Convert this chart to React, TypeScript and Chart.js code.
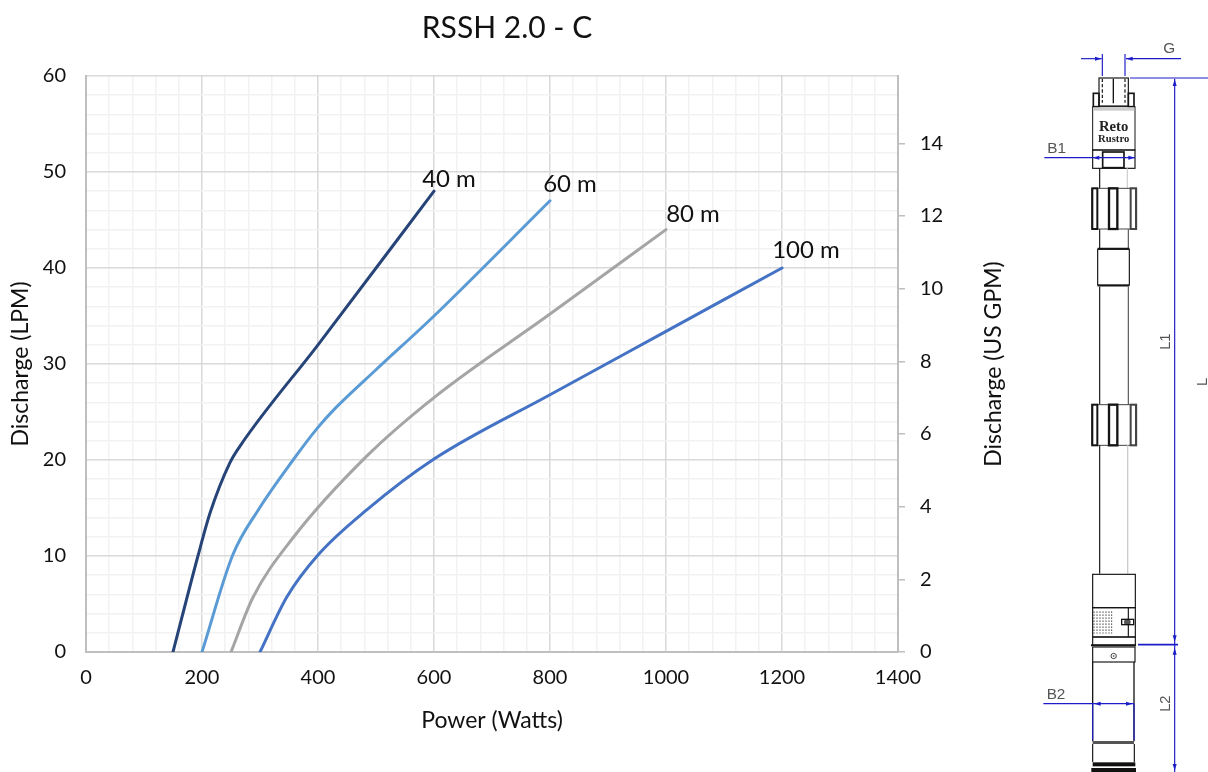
import React, { useEffect, useRef } from "react";
import { Chart, registerables } from "chart.js";

Chart.register(...registerables);

const FONT = "Lato, Carlito, sans-serif";

const chartTitle = "RSSH 2.0 - C";
const xTitle = "Power (Watts)";
const yTitle = "Discharge (LPM)";
const y2Title = "Discharge (US GPM)";

const seriesNames = ["40 m", "60 m", "80 m", "100 m"];
const seriesColors = ["#264478", "#5B9BD5", "#A5A5A5", "#4472C4"];

const power40 = [150, 193, 214, 248, 265, 400, 600];
const flow40 = [0, 10, 14.5, 19.7, 21.4, 32, 48];
const power60 = [200, 253, 297, 357, 400, 430, 500, 600, 800];
const flow60 = [0, 10.1, 14.8, 20, 23.4, 25.4, 29.4, 35, 47];
const power80 = [250, 288, 357, 484, 600, 800, 1000];
const flow80 = [0, 5.7, 11.9, 20.4, 26.5, 35.2, 44];
const power100 = [300, 346, 400, 484, 600, 800, 1000, 1200];
const flow100 = [0, 5.7, 10.1, 14.8, 20.1, 26.8, 33.4, 40];

const allPower = [power40, power60, power80, power100];
const allFlow = [flow40, flow60, flow80, flow100];

// label offset from each curve's end point, in pixels
const labelOffsets = [
  [15, -12],
  [20, -17],
  [27, -15],
  [24, -18],
];

const LPM_MAX = 60;
const GPM_MAX = LPM_MAX / 3.785;

const endLabels = {
  id: "endLabels",
  afterDatasetsDraw(chart: any) {
    const { ctx } = chart;
    ctx.save();
    ctx.font = `24px ${FONT}`;
    ctx.fillStyle = "#111";
    ctx.textAlign = "center";
    ctx.textBaseline = "middle";
    seriesNames.forEach((name, i) => {
      const pts = chart.getDatasetMeta(i).data;
      const p = pts[pts.length - 1];
      ctx.fillText(name, p.x + labelOffsets[i][0], p.y + labelOffsets[i][1]);
    });
    ctx.restore();
  },
};

// Chart.js turns a right-hand axis title clockwise; this one reads upward.
const rightAxisTitle = {
  id: "rightAxisTitle",
  afterDraw(chart: any) {
    const { ctx, chartArea } = chart;
    ctx.save();
    ctx.translate(chart.scales.y2.right - 20, (chartArea.top + chartArea.bottom) / 2);
    ctx.rotate(-Math.PI / 2);
    ctx.font = `23px ${FONT}`;
    ctx.fillStyle = "#111";
    ctx.textAlign = "center";
    ctx.textBaseline = "middle";
    ctx.fillText(y2Title, 0, 0);
    ctx.restore();
  },
};

const BLUE = "#1c1cc8";
const INK = "#151515";

function Arrow({ x, y, dir }: { x: number; y: number; dir: "l" | "r" | "u" | "d" }) {
  const s = 20;
  const w = 6;
  const pts =
    dir === "r" ? `${x},${y} ${x - s},${y - w} ${x - s},${y + w}` :
    dir === "l" ? `${x},${y} ${x + s},${y - w} ${x + s},${y + w}` :
    dir === "u" ? `${x},${y} ${x - w},${y + s} ${x + w},${y + s}` :
    `${x},${y} ${x - w},${y - s} ${x + w},${y - s}`;
  return <polygon points={pts} fill={BLUE} />;
}

function Ln({ a, b, c, d, w = 3.5, col = INK, dash }: any) {
  return <line x1={a} y1={b} x2={c} y2={d} stroke={col} strokeWidth={w} strokeDasharray={dash} />;
}

function Box({ x, y, w, h, sw = 3.5, fill = "none" }: any) {
  return <rect x={x} y={y} width={w} height={h} stroke={INK} strokeWidth={sw} fill={fill} />;
}

function Clamp({ y }: { y: number }) {
  return (
    <g>
      <rect x={215} y={y} width={135} height={122} fill="#fff" stroke="#444" strokeWidth={3} />
      <rect x={217} y={y} width={15} height={122} fill="none" stroke={INK} strokeWidth={6} />
      <rect x={267} y={y} width={25} height={122} fill="none" stroke={INK} strokeWidth={7} />
      <rect x={332} y={y} width={16} height={122} fill="none" stroke="#444" strokeWidth={6} />
    </g>
  );
}

const dimText = { fontFamily: "'Liberation Sans', sans-serif", fill: "#555" } as const;

function Diagram() {
  return (
    <svg
      width={188}
      height={772}
      viewBox="0 0 564 2316"
      style={{ position: "absolute", left: 1020, top: 0, filter: "blur(0.35px)" }}
    >
      <g>
        <Ln a={183} b={176} c={245} d={176} col={BLUE} />
        <Ln a={318} b={176} c={483} d={176} col={BLUE} />
        <Arrow x={245} y={176} dir="r" />
        <Arrow x={318} y={176} dir="l" />
        <Ln a={247} b={162} c={247} d={228} col={BLUE} />
        <Ln a={315} b={162} c={315} d={228} col={BLUE} />
        <text x={448} y={158} textAnchor="middle" fontSize={46} {...dimText}>G</text>
        <Ln a={330} b={234} c={564} d={234} col={BLUE} />
        <Ln a={464} b={236} c={464} d={2316} col={BLUE} />
        <Arrow x={464} y={238} dir="u" />

        <Box x={237} y={234} w={88} h={84} />
        <Ln a={247} b={236} c={247} d={308} dash="10 6" />
        <Ln a={315} b={236} c={315} d={308} dash="10 6" />
        <Ln a={280} b={236} c={280} d={310} w={4} />
        <Box x={220} y={280} w={17} h={40} sw={5} />
        <Box x={325} y={280} w={17} h={40} sw={5} />
        <Box x={218} y={320} w={127} h={130} sw={3} />
        <rect x={220} y={322} width={123} height={10} fill="#ccc" />
        <text x={281} y={392} textAnchor="middle" fontSize={44} fontWeight={700} fontFamily="'Liberation Serif', serif" fill="#222">Reto</text>
        <text x={281} y={426} textAnchor="middle" fontSize={32} fontWeight={700} fontFamily="'Liberation Serif', serif" fill="#222">Rustro</text>
        <Box x={218} y={450} w={127} h={55} />
        <Box x={248} y={456} w={64} h={47} sw={5} />
        <Ln a={73} b={473} c={345} d={473} col={BLUE} />
        <Arrow x={218} y={473} dir="l" />
        <Arrow x={345} y={473} dir="r" />
        <text x={110} y={458} textAnchor="middle" fontSize={46} {...dimText}>B1</text>

        <Ln a={239} b={505} c={239} d={565} />
        <Ln a={322} b={505} c={322} d={565} col="#ccc" />
        <Clamp y={565} />
        <Ln a={239} b={688} c={239} d={745} />
        <Ln a={325} b={688} c={325} d={745} col="#555" />
        <Box x={233} y={748} w={95} h={107} />
        <Ln a={233} b={746} c={328} d={746} w={5} />
        <Ln a={233} b={857} c={328} d={857} w={5} />
        <Ln a={239} b={860} c={239} d={1214} />
        <Ln a={325} b={860} c={325} d={1214} col="#555" />
        <text transform="translate(450 1025) rotate(-90)" textAnchor="middle" fontSize={44} {...dimText}>L1</text>
        <text transform="translate(562 1146) rotate(-90)" textAnchor="middle" fontSize={44} {...dimText}>L</text>
      </g>

      <g transform="translate(0 1146)">
        <Clamp y={68} />
        <Ln a={239} b={190} c={239} d={575} />
        <Ln a={323} b={190} c={323} d={575} w={4} col="#ccc" />
        <Box x={218} y={577} w={128} h={100} />
        <Box x={218} y={677} w={128} h={88} />
        {[222, 231, 240, 249, 258, 267, 275].map((x) => (
          <Ln key={x} a={x} b={688} c={x} d={755} w={3} col="#555" dash="5 4" />
        ))}
        <Ln a={325} b={677} c={325} d={765} />
        <circle cx={322} cy={720} r={10} fill="#555" />
        <rect x={305} y={712} width={36} height={16} fill="none" stroke={INK} strokeWidth={4} />
        <Box x={218} y={765} w={128} h={25} />
        <Ln a={213} b={790} c={348} d={790} w={6} />
        <Box x={218} y={795} w={127} h={45} />
        <circle cx={281} cy={822} r={8} fill="none" stroke="#444" strokeWidth={3} />
        <circle cx={281} cy={822} r={2.5} fill="#333" />
        <Ln a={218} b={840} c={218} d={1078} w={4} />
        <Ln a={342} b={840} c={342} d={1078} w={4} />
        <Ln a={218} b={965} c={218} d={1075} col={BLUE} />
        <Ln a={342} b={965} c={342} d={1075} col={BLUE} />
        <Ln a={70} b={965} c={342} d={965} col={BLUE} />
        <Arrow x={222} y={965} dir="l" />
        <Arrow x={338} y={965} dir="r" />
        <text x={108} y={950} textAnchor="middle" fontSize={46} {...dimText}>B2</text>

        <rect x={218} y={1077} width={124} height={9} fill="#555" />
        <Ln a={218} b={1086} c={218} d={1140} />
        <Ln a={343} b={1086} c={343} d={1140} />
        <rect x={218} y={1141} width={128} height={12} fill="#111" />
        <rect x={214} y={1158} width={134} height={12} fill="#111" />

        <Ln a={354} b={788} c={474} d={788} w={5} col={BLUE} />
        <Arrow x={464} y={780} dir="d" />
        <Arrow x={464} y={798} dir="u" />
        <Arrow x={464} y={1166} dir="d" />
        <text transform="translate(450 965) rotate(-90)" textAnchor="middle" fontSize={44} {...dimText}>L2</text>
      </g>
    </svg>
  );
}

export default function App() {
  const ref = useRef<HTMLCanvasElement>(null);

  useEffect(() => {
    document.body.style.margin = "0";
    document.body.style.background = "#fff";
    const tickFont = { family: FONT, size: 20 };
    const titleFont = { family: FONT, size: 23, lineHeight: 1.2 };
    const gridColor = (every: number) => (c: any) =>
      c.tick && Math.abs(c.tick.value % every) < 1e-6 ? "#d9d9d9" : "#f2f2f2";

    const chart = new Chart(ref.current as HTMLCanvasElement, {
      type: "scatter",
      data: {
        datasets: seriesNames.map((name, i) => ({
          label: name,
          data: allPower[i].map((x, j) => ({ x, y: allFlow[i][j] })),
          showLine: true,
          borderColor: seriesColors[i],
          backgroundColor: seriesColors[i],
          borderWidth: 3,
          borderCapStyle: "round",
          pointRadius: 0,
          cubicInterpolationMode: "monotone",
          yAxisID: "y",
        })),
      },
      options: {
        responsive: false,
        animation: false,
        layout: { padding: 0 },
        plugins: {
          legend: { display: false },
          tooltip: { enabled: false },
          title: {
            display: true,
            text: chartTitle,
            color: "#111",
            font: { family: FONT, size: 30, weight: "normal", lineHeight: 1.2 },
            padding: { top: 10, bottom: 30 },
          },
        },
        scales: {
          x: {
            type: "linear",
            min: 0,
            max: 1400,
            afterFit: (s: any) => { s.height = 120; },
            title: {
              display: true,
              text: xTitle,
              color: "#111",
              font: titleFont,
              padding: { top: 0, bottom: 38 },
            },
            border: { color: "#bfbfbf", width: 2 },
            grid: { color: gridColor(200), lineWidth: 1.5, drawTicks: false },
            ticks: {
              stepSize: 40,
              autoSkip: false,
              maxRotation: 0,
              color: "#111",
              font: tickFont,
              padding: 14,
              callback: (v: any) => (v % 200 === 0 ? String(v) : ""),
            },
          },
          y: {
            type: "linear",
            position: "left",
            min: 0,
            max: LPM_MAX,
            afterFit: (s: any) => { s.width = 86; },
            title: {
              display: true,
              text: yTitle,
              color: "#111",
              font: titleFont,
              padding: { top: 7, bottom: 0 },
            },
            border: { color: "#bfbfbf", width: 2 },
            grid: { color: gridColor(10), lineWidth: 1.5, drawTicks: false },
            ticks: {
              stepSize: 2,
              autoSkip: false,
              color: "#111",
              font: tickFont,
              padding: 20,
              callback: (v: any) => (v % 10 === 0 ? String(v) : ""),
            },
          },
          y2: {
            type: "linear",
            position: "right",
            min: 0,
            max: GPM_MAX,
            afterFit: (s: any) => { s.width = 116; },
            title: { display: false },
            border: { color: "#bfbfbf", width: 2 },
            grid: { drawOnChartArea: false, tickColor: "#bfbfbf", tickLength: 7, lineWidth: 1.5 },
            ticks: {
              stepSize: 2,
              includeBounds: false,
              autoSkip: false,
              color: "#111",
              font: tickFont,
              padding: 15,
            },
          },
        },
      },
      plugins: [endLabels, rightAxisTitle],
    } as any);
    return () => chart.destroy();
  }, []);

  return (
    <div style={{ position: "absolute", left: 0, top: 0, width: 1208, height: 772, background: "#fff", overflow: "hidden" }}>
      <canvas ref={ref} width={1014} height={772} style={{ position: "absolute", left: 0, top: 0 }} />
      <Diagram />
    </div>
  );
}
